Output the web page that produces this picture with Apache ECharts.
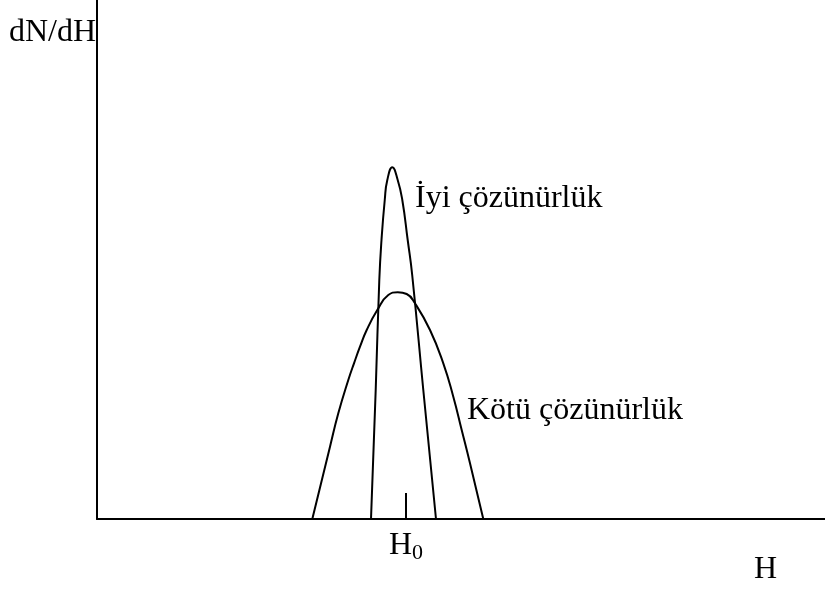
<!DOCTYPE html>
<html>
<head>
<meta charset="utf-8">
<script src="https://cdn.jsdelivr.net/npm/echarts@6/dist/echarts.min.js"></script>
<style>
  html, body { margin: 0; padding: 0; background: #fff; }
  #main { width: 825px; height: 589px; }
</style>
</head>
<body>
<div id="main"></div>
<script>
// iyi çözünürlük (dar tepe)
var narrowH = [54.8, 55.74, 56.46, 56.9, 57.55, 58.06, 59.06, 60.14, 61.06, 62.14, 63.04, 65.26, 67.8];
var narrowN = [0, 25.8, 47.8, 55.8, 63.8, 67.8, 70.34, 67.8, 63.8, 55.8, 48.8, 25.8, 0];
// kötü çözünürlük (geniş tepe)
var wideH = [43.06, 46.6, 48.26, 50.26, 51.4, 52.6, 53.94, 56.06, 58.26, 60.14, 61.94, 63.6, 66.6, 69.26, 71.26, 72.94, 74.6, 77.26];
var wideN = [0, 14.46, 21.14, 27.8, 31.14, 34.46, 37.8, 41.8, 44.8, 45.34, 45.0, 43.14, 37.8, 31.14, 24.46, 17.8, 11.14, 0];
// H0 işareti
var h0 = 61.8;
var h0Tick = [0, 5.2];

function zip(a, b) {
  var out = [];
  for (var i = 0; i < a.length; i++) out.push([a[i], b[i]]);
  return out;
}

var font = '"Liberation Serif", "Times New Roman", serif';
var fs = 32;

var myChart = echarts.init(document.getElementById('main'));
myChart.setOption({
  animation: false,
  backgroundColor: '#fff',
  grid: { left: 97, right: 0, top: 0, bottom: 70 },
  xAxis: {
    type: 'value', min: 0, max: 145.6,
    axisLine: { show: true, onZero: false, lineStyle: { color: '#000', width: 2 } },
    axisTick: { show: false }, axisLabel: { show: false }, splitLine: { show: false }
  },
  yAxis: {
    type: 'value', min: 0, max: 103.8,
    axisLine: { show: true, onZero: false, lineStyle: { color: '#000', width: 2 } },
    axisTick: { show: false }, axisLabel: { show: false }, splitLine: { show: false }
  },
  series: [
    {
      type: 'line', data: zip(narrowH, narrowN), smooth: 0.5,
      showSymbol: false, lineStyle: { color: '#000', width: 2 }
    },
    {
      type: 'line', data: zip(wideH, wideN), smooth: 0.5,
      showSymbol: false, lineStyle: { color: '#000', width: 2 }
    },
    {
      type: 'line', data: [[h0, h0Tick[0]], [h0, h0Tick[1]]],
      showSymbol: false, lineStyle: { color: '#000', width: 2 }
    }
  ],
  graphic: [
    { type: 'text', left: 9, top: 17, style: { text: 'dN/dH', font: fs + 'px ' + font, fill: '#000' } },
    { type: 'text', left: 415, top: 183, style: { text: 'İyi çözünürlük', font: fs + 'px ' + font, fill: '#000' } },
    { type: 'text', left: 467, top: 395, style: { text: 'Kötü çözünürlük', font: fs + 'px ' + font, fill: '#000' } },
    {
      type: 'text', left: 389, top: 530,
      style: {
        text: 'H{s|0}', font: fs + 'px ' + font, fill: '#000',
        rich: { s: { fontSize: 22, fontFamily: font, padding: [14, 0, 0, 0] } }
      }
    },
    { type: 'text', left: 754, top: 554, style: { text: 'H', font: fs + 'px ' + font, fill: '#000' } }
  ]
});
</script>
</body>
</html>
